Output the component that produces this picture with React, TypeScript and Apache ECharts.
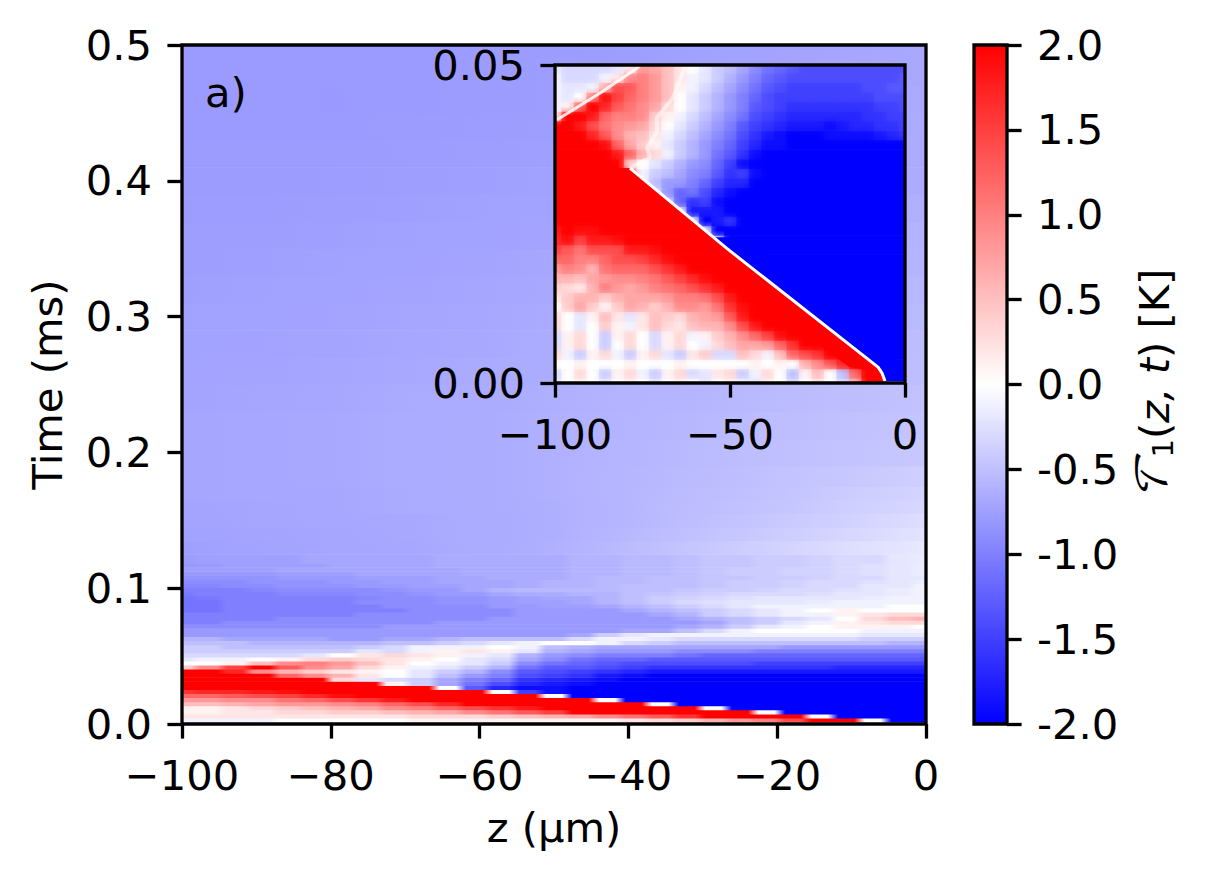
import React, { useEffect, useRef } from "react";
import * as echarts from "echarts";

const mainFineRows = [
[-1,-1,-1,0],
[-1,-1,-1,-1,0,0,0,0,0,1,1,1,1,1,1,1,1,2,3,4,6,8,10,14,20,20,0,-20],
[2,2,2,2,2,2,2,2,2,3,3,3,4,5,6,7,9,11,13,16,20,20,20,20,0,-20],
[1,1,2,2,3,3,4,4,5,6,7,9,11,13,15,20,20,20,20,20,20,20,0,-20],
[1,1,2,3,4,5,6,7,9,10,12,14,16,18,20,20,20,20,20,20,0,-20],
[5,5,6,7,8,8,9,10,12,14,17,20,20,20,20,20,20,20,0,-20],
[8,8,9,9,11,12,14,16,18,20,20,20,20,20,20,20,0,-20],
[12,12,13,14,15,17,19,20,20,20,20,20,20,20,0,-20],
[16,17,17,18,19,20,20,20,20,20,20,20,0,-15,-19,-20],
[20,20,20,20,20,20,20,20,20,20,0,-13,-17,-19,-19,-20],
[20,20,20,20,20,20,20,20,1,-4,-7,-11,-14,-17,-18,-19,-20],
[20,20,20,20,20,20,3,-2,-3,-4,-7,-10,-12,-16,-17,-18,-19,-20],
[20,20,20,20,12,9,6,2,0,-2,-5,-8,-10,-14,-15,-16,-18,-19,-20],
[20,20,17,9,6,4,2,1,0,-2,-4,-6,-9,-13,-14,-15,-16,-17,-18],
[4,9,15,20,13,9,7,3,1,-1,-2,-4,-6,-11,-13,-13,-14,-15,-16,-16,-16,-16,-16,-16,-16,-17],
[0,0,1,5,9,10,8,5,2,0,-1,-2,-4,-9,-11,-12,-13,-14,-14,-14,-14,-14,-15],
[-2,-1,-1,0,1,3,4,3,2,1,0,-2,-3,-7,-9,-11,-12,-12,-13],
[-3,-3,-3,-3,-3,-2,0,2,3,2,1,-1,-2,-6,-8,-9,-10,-10,-10,-11,-12],
[-4,-4,-4,-4,-4,-4,-4,-2,-3,-1,1,2,1,-2,-6,-7,-8,-8,-8,-9,-9,-9,-10],
[-4,-4,-5,-5,-5,-5,-5,-4,-3,-1,-1,-1,0,-1,-5,-6,-7,-7,-7,-7,-7,-7,-7,-8],
[-5,-5,-5,-6,-6,-6,-6,-6,-5,-5,-4,-3,-2,-1,0,0,-1,-3,-4,-5,-5,-5,-5,-5,-5,-5,-5,-6,-6],
[-6,-6,-7,-7,-7,-7,-8,-8,-7,-7,-6,-5,-5,-5,-5,-3,-1,-1,-2,-3,-3,-3,-3,-3,-3,-3,-4,-4,-4],
[-8,-8,-8,-8,-8,-8,-8,-8,-8,-8,-8,-8,-8,-8,-8,-7,-4,-2,-1,-1,-1,-1,-1,-1,-1,-1,-2,-2,-2],
[-8,-8,-8,-8,-8,-8,-8,-8,-8,-8,-8,-8,-8,-8,-8,-8,-8,-7,-7,-5,-3,-1,0,0,0,0,-1,-1,-1],
[-9,-9,-9,-9,-9,-9,-9,-9,-8,-8,-8,-8,-8,-8,-8,-8,-8,-8,-8,-7,-6,-4,-2,-1,0,1,1,1,0],
[-10,-10,-9,-9,-9,-9,-9,-9,-9,-9,-8,-8,-8,-8,-8,-8,-8,-8,-8,-8,-7,-5,-4,-2,-1,1,2,3,3],
[-10,-10,-10,-10,-9,-9,-9,-9,-9,-9,-9,-9,-8,-8,-8,-8,-8,-8,-8,-7,-6,-5,-4,-3,-2,0,3,5,6],
[-10,-10,-10,-10,-10,-10,-10,-9,-9,-9,-9,-9,-9,-8,-8,-8,-8,-8,-7,-6,-4,-3,-2,-1,-1,1,2,3,3],
[-11,-11,-10,-10,-10,-10,-10,-10,-10,-9,-9,-9,-9,-8,-8,-8,-8,-7,-6,-5,-4,-3,-2,-1,0,1,0,0,0],
[-11,-11,-10,-10,-10,-10,-10,-10,-9,-9,-9,-9,-8,-8,-7.5,-7.5,-7,-6,-5,-4,-3,-2,-1,-1,-1,-1,-1,0,0],
[-11,-11,-10,-10,-10,-10,-10,-9,-9,-9,-8.5,-8.5,-8,-7.5,-7.5,-7,-6,-5,-4,-3,-2.5,-2,-2,-2,-1.5,-1,-1,-1,-1],
[-11,-10.5,-10,-10,-10,-10,-10,-9.5,-9,-9,-8.5,-8.5,-8,-7.5,-7,-7,-6,-5,-4,-3.5,-3,-2.5,-2,-2,-2,-2,-1.5,-1,-1],
[-10.5,-10,-10,-10,-9.5,-9.5,-9.5,-9,-9,-8.5,-8,-8,-7,-6.5,-6.5,-6,-6,-5,-4.5,-4,-3.5,-3,-3,-3,-2.5,-2,-2,-1.5,-1],
[-10,-10,-10,-9.5,-9,-9,-9,-9,-8.5,-8,-8,-7,-6,-5.5,-5.5,-5.5,-5.5,-5,-5,-4.5,-4,-4,-3.5,-3,-3,-2.5,-2,-1.5,-1],
[-9.5,-9.5,-9,-9,-8.5,-8.5,-8.5,-8,-8,-7.5,-7.5,-7,-7,-6.5,-6,-6,-5.5,-5,-5,-5,-4.5,-4,-4,-3.5,-3,-3,-2,-2,-1],
[-9,-9,-9,-8.5,-8.5,-8.5,-8,-8,-7.5,-7.5,-7,-7,-7,-6.5,-6,-6,-5.5,-5.5,-5,-5,-4.5,-4,-4,-3.5,-3,-3,-2.5,-2,-1.5],
[-8.5,-8.5,-8.5,-8.5,-8,-8,-8,-7.5,-7.5,-7.5,-7,-7,-6.5,-6.5,-6.5,-6,-5.5,-5.5,-5,-5,-4.5,-4.5,-4,-4,-3.5,-3,-3,-2,-2],
[-8,-8,-8,-8,-7.5,-7.5,-7.5,-7,-7,-7,-7,-6.5,-6.5,-6.5,-6.5,-6,-6,-5.5,-5.5,-5,-4.5,-4,-4,-3.5,-3.5,-3,-2.5,-2,-1.5],
[-7.5,-7.5,-7.5,-7.5,-7,-7,-7,-7,-7,-7,-7,-6.5,-6.5,-6.5,-6.5,-6,-6,-5.5,-5.5,-5,-4.5,-4,-4,-3.5,-3.5,-3,-2.5,-2,-1.5],
[-8,-8,-7.5,-7.5,-7.5,-7.5,-7,-7,-7,-7,-6.5,-6.5,-6.5,-6.5,-6.5,-6,-6,-5.5,-5.5,-5,-4.5,-4.5,-4,-4,-3.5,-3,-2.5,-2,-1.5],
[-7.8,-7.5,-7.5,-7.5,-7.5,-7,-7,-7,-7,-7,-6.5,-6.5,-6.5,-6.5,-6.5,-6,-6,-5.5,-5.5,-5,-4.5,-4.5,-4,-4,-3.5,-3,-3,-2,-1.6],
];

const mainUpperTimes = [0.13,0.14,0.15,0.16,0.17,0.18,0.2,0.22,0.24,0.26,0.28,0.3,0.32,0.34,0.36,0.38,0.4,0.42,0.44,0.46,0.48,0.5];
const mainUpperRows = [
[-7.5,-7.2,-7.0,-6.9,-6.6,-6.2,-5.3,-4.4,-3.5,-2.6,-1.8],
[-7.3,-7.1,-7.0,-6.8,-6.6,-6.3,-5.6,-4.8,-4.0,-3.1,-2.2],
[-7.2,-7.0,-6.9,-6.8,-6.6,-6.3,-5.7,-5.0,-4.3,-3.5,-2.6],
[-7.1,-7.0,-6.9,-6.7,-6.5,-6.3,-5.7,-5.1,-4.6,-3.8,-3.1],
[-7.0,-6.9,-6.9,-6.7,-6.5,-6.2,-5.7,-5.2,-4.7,-4.0,-3.4],
[-7.0,-6.9,-6.8,-6.6,-6.5,-6.2,-5.7,-5.3,-4.8,-4.3,-3.8],
[-7.0,-6.9,-6.8,-6.6,-6.5,-6.2,-5.8,-5.4,-5.0,-4.7,-4.3],
[-7.0,-6.9,-6.8,-6.6,-6.5,-6.2,-5.9,-5.6,-5.2,-4.9,-4.6],
[-7.1,-7.0,-6.9,-6.7,-6.6,-6.3,-6.0,-5.7,-5.4,-5.1,-4.8],
[-7.2,-7.1,-7.0,-6.8,-6.7,-6.4,-6.1,-5.8,-5.5,-5.3,-5.0],
[-7.3,-7.2,-7.1,-6.9,-6.8,-6.5,-6.3,-6.0,-5.7,-5.4,-5.2],
[-7.4,-7.3,-7.2,-7.0,-6.9,-6.7,-6.4,-6.1,-5.9,-5.6,-5.4],
[-7.5,-7.4,-7.3,-7.1,-7.0,-6.8,-6.6,-6.3,-6.1,-5.8,-5.6],
[-7.6,-7.5,-7.4,-7.3,-7.1,-6.9,-6.7,-6.5,-6.3,-6.0,-5.8],
[-7.6,-7.6,-7.5,-7.4,-7.3,-7.1,-6.9,-6.7,-6.5,-6.2,-6.0],
[-7.7,-7.7,-7.6,-7.5,-7.4,-7.2,-7.0,-6.8,-6.6,-6.4,-6.2],
[-7.8,-7.8,-7.7,-7.6,-7.5,-7.4,-7.2,-7.0,-6.8,-6.6,-6.4],
[-7.8,-7.8,-7.8,-7.7,-7.6,-7.5,-7.3,-7.1,-6.9,-6.7,-6.5],
[-7.9,-7.9,-7.9,-7.8,-7.7,-7.6,-7.4,-7.2,-7.0,-6.8,-6.6],
[-7.9,-7.9,-8.0,-7.9,-7.8,-7.7,-7.5,-7.3,-7.1,-6.9,-6.7],
[-7.9,-7.9,-7.9,-7.9,-7.8,-7.7,-7.6,-7.4,-7.2,-7.0,-6.8],
[-7.9,-7.9,-7.9,-7.9,-7.8,-7.8,-7.6,-7.4,-7.2,-7.0,-6.8],
];

const insetRows = [
[-2,0,1,0,-2,0,1,0,-2,0,1,0,-2,0,1,-1,-2,1,0,-3,0,2,0,-3,6,20,20,-3,-8],
[-3,0,3,0,-4,1,3,-1,-4,1,3,-3,-2,2,3,-4,-1,3,0,-5,1,5,0,-5,12,20,20,-15,-20],
[0,0,1,0,0,0,1,0,0,0,1,0,0,0,0,0,1,0,1,0,6,9,13,17,20,20,-4,-20],
[3,-1,-4,1,3,-1,-4,1,3,-2,-4,2,4,-3,-3,5,3,-1,5,12,14,16,20,20,20,-2,-20],
[-3,1,3,0,-4,0,3,0,-3,1,3,0,-1,3,5,7,7,8,12,16,20,20,20,20,-2,-20],
[-3,1,3,0,-4,1,3,0,-3,1,3,-1,1,4,6,9,12,15,19,20,20,20,20,-2,-20],
[3,0,-2,0,4,1,-1,2,5,3,2,5,6,6,9,14,18,20,20,20,20,20,-2,-20],
[3,0,-2,1,5,2,-2,2,5,4,3,6,7,8,13,18,20,20,20,20,20,-2,-20],
[0,4,7,4,1,4,7,6,4,6,9,9,8,11,16,19,20,20,20,20,-2,-20],
[2,4,6,6,4,6,7,7,7,8,10,10,11,14,18,20,20,20,20,-2,-20],
[4,3,2,6,10,8,7,8,10,11,12,14,16,18,20,20,20,20,-2,-20],
[6,6,5,7,8,9,9,10,11,13,15,17,19,20,20,20,20,-2,-20],
[8,10,9,6,11,12,12,12,14,16,18,20,20,20,20,20,-2,-20],
[12,12,10,10,12,14,14,15,17,19,20,20,20,20,20,-2,-20],
[15,13,11,14,14,14,18,18,19,20,20,20,20,20,-2,-20],
[17,19,15,18,18,19,20,20,20,20,20,20,20,-2,-20],
[18,20,19,19,20,20,20,20,20,20,20,20,-2,-20],
[20,20,20,20,20,20,20,20,20,20,20,-2,-20,-18,-16,-20],
[20,20,20,20,20,20,20,20,20,20,-2,-18,-18,-18,-20],
[20,20,20,20,20,20,20,20,20,-4,-12,-16,-15,-19,-20],
[20,20,20,20,20,20,20,20,-3,-8,-12,-11,-14,-17,-19,-20],
[20,20,20,20,20,20,20,-1,-5,-8,-8,-10,-12,-15,-17,-17,-20],
[20,20,20,20,20,20,12,-1,-4,-5,-7,-9,-10,-13,-16,-15,-19,-20],
[20,20,20,20,20,20,4,0,-2,-4,-6,-8,-9,-12,-15,-19,-20],
[20,20,20,20,20,18,12,6,3,-1,-4,-6,-8,-11,-13,-16,-19,-20],
[20,20,20,20,19,12,7,4,1,-2,-4,-6,-8,-10,-12,-15,-17,-19,-19,-20],
[20,20,20,17,13,9,6,5,2,-1,-3,-5,-7,-9,-11,-14,-16,-18,-19,-20,-20,-20,-19,-19,-19,-19,-18,-17,-16],
[20,20,18,14,11,9,8,7,3,0,-2,-4,-6,-8,-10,-13,-15,-16,-17,-18,-18,-18,-19,-18,-17,-17,-16,-16,-15],
[2,20,20,18,12,10,10,9,4,1,-1,-3,-5,-7,-9,-11,-14,-15,-16,-17,-17,-17,-17,-17,-17,-16,-16,-15,-15],
[-1,1,12,20,17,13,11,9,7,3,0,-2,-4,-6,-8,-10,-13,-14,-15,-16,-16,-16,-16,-16,-16,-16,-15,-15,-14],
[-1,-2,0,10,19,15,12,10,8,5,0,-2,-4,-6,-8,-10,-12,-14,-15,-15,-15,-15,-15,-15,-15,-15,-14,-14,-14],
[-1,-2,-2,-1,6,14,13,10,8,5,1,-1,-3,-5,-7,-9,-11,-13,-14,-15,-15,-15,-15,-15,-15,-14,-14,-13,-13],
[-1,-3,-3,-3,-1,2,9,10,8,5,2,-1,-2,-4,-6,-8,-10,-12,-13,-14,-14,-14,-14,-14,-14,-14,-14,-14,-13],
[-2,-3,-3,-3,-3,-2,2,8,7,5,2,0,-2,-4,-5,-7,-9,-11,-12,-13,-14,-14,-14,-14,-14,-14,-14,-14,-14],
[-2,-2,-3,-3,-3,-3,-1,6,7,5,1,0,-2,-3,-5,-7,-8,-10,-11,-12,-13,-13,-13,-13,-13,-13,-13,-13,-13],
];

// Fronts as [z, t]
const insetFrontLine = [[-5.7,0.0003],[-6.6,0.0016],[-7.7,0.0025],[-51,0.0212],[-78.6,0.0338]];
const insetRidgeLine = [[-78.6,0.0338],[-72.9,0.0354],[-73.7,0.037],[-70.9,0.0395],[-70.9,0.0417],[-66.3,0.0448],[-63.4,0.0489],[-62.9,0.05]];
const insetWedgeLine = [[-99.4,0.0414],[-87.1,0.0456],[-76.6,0.0495],[-75.7,0.05]];
const insetRedArea = [[-6.6,0.0016],[-7.7,0.0025],[-51,0.0212],[-78.6,0.0338],[-88,0.0338],[-60,0.0212],[-16,0.0025]];
const insetBlueArea = [[-5.7,0.0003],[-7.7,0.0025],[-55,0.0229],[-46,0.0229],[0,0.0025],[0,0.0003]];

const mainZTicks = { min: -100, max: 0, interval: 20 };
const mainTimeTicks = { min: 0, max: 0.5, interval: 0.1 };
const insetZTicks = { min: -100, max: 0, interval: 50 };
const insetTimeTicks = { min: 0, max: 0.05, interval: 0.05 };
const colorbarTicks = { min: -2, max: 2, interval: 0.5 };
const colorStops = ["#0000ff", "#ffffff", "#ff0000"];

const FONT = "DejaVu Sans";
const FS = 41.67;
const LW = 3.3;
const TICK = 14.6;
const LABEL_MARGIN = 30;

const centers = (lo: number, hi: number, n: number) =>
  Array.from({ length: n }, (_, i) => lo + ((hi - lo) * i) / (n - 1));

const edgesOf = (c: number[]) =>
  c.map((v, i) => [
    i === 0 ? v - (c[1] - c[0]) / 2 : (c[i - 1] + v) / 2,
    i === c.length - 1 ? v + (v - c[i - 1]) / 2 : (v + c[i + 1]) / 2,
  ]);

const bwr = (tenths: number) => {
  const k = Math.round(255 * (1 - Math.min(Math.abs(tenths), 20) / 20));
  return tenths < 0 ? `rgb(${k},${k},255)` : `rgb(255,${k},${k})`;
};

const at = (row: number[], i: number) => (i < row.length ? row[i] : row[row.length - 1]);

type Strip = { box: number[]; vertical: boolean; stops: { offset: number; color: string }[] };

// Stops run from 0 at the strip's left (or top) to 1; `flat` holds each cell's own colour over that share of its width.
function stopsOf(pos: number[], vals: number[], lo: number, hi: number, flat: number, reverse: boolean) {
  const step = Math.abs(pos[1] - pos[0]);
  const stops: { offset: number; color: string }[] = [];
  pos.forEach((p, i) => {
    const c = bwr(vals[i]);
    if (flat > 0) {
      stops.push({ offset: Math.max(0, Math.min(1, (p - (flat * step) / 2 - lo) / (hi - lo))), color: c });
      stops.push({ offset: Math.max(0, Math.min(1, (p + (flat * step) / 2 - lo) / (hi - lo))), color: c });
    } else {
      stops.push({ offset: (p - lo) / (hi - lo), color: c });
    }
  });
  if (reverse) return stops.map((s) => ({ offset: 1 - s.offset, color: s.color })).reverse();
  return stops;
}

function rowStrips(rows: number[][], zs: number[], tEdges: number[][], flat: number): Strip[] {
  return rows.map((row, r) => ({
    box: [zs[0], zs[zs.length - 1], tEdges[r][0], tEdges[r][1]],
    vertical: false,
    stops: stopsOf(zs, zs.map((_, i) => at(row, i)), zs[0], zs[zs.length - 1], flat, false),
  }));
}

function columnStrips(rows: number[][], zs: number[], ts: number[]): Strip[] {
  const zEdges = edgesOf(zs);
  const lo = ts[0];
  const hi = ts[ts.length - 1];
  return zs.map((_, i) => ({
    box: [zEdges[i][0], zEdges[i][1], lo, hi],
    vertical: true,
    stops: stopsOf(ts, rows.map((row) => at(row, i)), lo, hi, 0, true),
  }));
}

const stripSeries = (strips: Strip[], axis: number, z: number, opacity: number) => ({
  type: "custom",
  xAxisIndex: axis,
  yAxisIndex: axis,
  z,
  clip: true,
  silent: true,
  encode: { x: [0, 1], y: [2, 3] },
  data: strips.map((s) => s.box),
  renderItem: (params: any, api: any) => {
    const s = strips[params.dataIndex];
    const a = api.coord([api.value(0), api.value(2)]);
    const b = api.coord([api.value(1), api.value(3)]);
    return {
      type: "rect",
      silent: true,
      shape: {
        x: Math.min(a[0], b[0]),
        y: Math.min(a[1], b[1]),
        width: Math.abs(a[0] - b[0]) + (s.vertical ? 0.6 : 0),
        height: Math.abs(a[1] - b[1]) + (s.vertical ? 0 : 0.6),
      },
      style: {
        opacity,
        fill: new echarts.graphic.LinearGradient(0, 0, s.vertical ? 0 : 1, s.vertical ? 1 : 0, s.stops),
      },
    };
  },
});

const areaSeries = (points: number[][], color: string, z: number) => ({
  type: "custom",
  xAxisIndex: 1,
  yAxisIndex: 1,
  z,
  clip: true,
  silent: true,
  encode: { x: 0, y: 1 },
  data: points,
  renderItem: (params: any, api: any) => {
    if (params.dataIndex !== 0) return { type: "group", children: [] };
    return {
      type: "polygon",
      silent: true,
      shape: { points: points.map((p) => api.coord(p)) },
      style: { fill: color },
    };
  },
});

const frontSeries = (points: number[][], z: number, width: number, opacity: number) => ({
  type: "line",
  xAxisIndex: 1,
  yAxisIndex: 1,
  z,
  clip: true,
  silent: true,
  showSymbol: false,
  smooth: false,
  lineStyle: { color: "#ffffff", width, opacity },
  itemStyle: { color: "#ffffff" },
  data: points,
});

const minus = (s: string) => s.replace("-", "\u2212");

const axisBase = (z: number) => ({
  type: "value" as const,
  z,
  splitLine: { show: false },
  axisLine: { show: false, onZero: false },
  axisTick: { show: true, length: TICK, lineStyle: { color: "#000", width: LW } },
  axisLabel: { color: "#000", fontFamily: FONT, fontSize: FS, margin: LABEL_MARGIN },
  nameTextStyle: { color: "#000", fontFamily: FONT, fontSize: FS },
});

export default function App() {
  const ref = useRef<HTMLDivElement>(null);
  useEffect(() => {
    const chart = echarts.init(ref.current!, undefined, { renderer: "svg" });

    const mainFineTimes = mainFineRows.map((_, k) => k * 0.003);
    const mainTimes = [...mainFineTimes, ...mainUpperTimes];
    const mainTEdges = edgesOf(mainTimes);
    const fine = mainFineRows.length;
    const zFine = centers(-100, 0, 29);
    const zUpper = centers(-100, 0, 11);
    const mainStrips = [
      ...rowStrips(mainFineRows, zFine, mainTEdges.slice(0, fine), 0.6),
      ...rowStrips(mainUpperRows, zUpper, mainTEdges.slice(fine), 0),
    ];
    const insetTimes = insetRows.map((_, r) => r * 0.0015);
    const insetRowStrips = rowStrips(insetRows, zFine, edgesOf(insetTimes), 0);
    const insetColumnStrips = columnStrips(insetRows, zFine, insetTimes);

    chart.setOption({
      animation: false,
      backgroundColor: "#fff",
      grid: [
        { left: 182, top: 45, width: 744, height: 679, show: true, borderColor: "#000", borderWidth: LW, backgroundColor: "transparent", z: 2 },
        { left: 555, top: 65, width: 350, height: 318, show: true, borderColor: "#000", borderWidth: LW, backgroundColor: "transparent", z: 6 },
        { left: 974, top: 45, width: 33, height: 679, show: true, borderColor: "#000", borderWidth: LW, backgroundColor: "transparent", z: 8 },
      ],
      xAxis: [
        {
          ...axisBase(5), gridIndex: 0, ...mainZTicks, name: "z (\u00b5m)", nameLocation: "middle", nameGap: 82,
          axisLabel: { ...axisBase(5).axisLabel, formatter: (v: number) => minus(String(v)) },
        },
        {
          ...axisBase(7), gridIndex: 1, ...insetZTicks,
          axisLabel: { ...axisBase(7).axisLabel, formatter: (v: number) => minus(String(v)) },
        },
        { type: "value", gridIndex: 2, min: 0, max: 1, show: false },
      ],
      yAxis: [
        {
          ...axisBase(5), gridIndex: 0, ...mainTimeTicks, name: "Time (ms)", nameLocation: "middle", nameGap: 114, nameRotate: 90,
          axisLabel: { ...axisBase(5).axisLabel, formatter: (v: number) => v.toFixed(1) },
        },
        {
          ...axisBase(7), gridIndex: 1, ...insetTimeTicks,
          axisLabel: { ...axisBase(7).axisLabel, formatter: (v: number) => v.toFixed(2) },
        },
        {
          ...axisBase(9), gridIndex: 2, position: "right", ...colorbarTicks,
          name: "{c|\u{1D4AF}}{s|1}{n|(}{i|z, t}{n|) [K]}", nameLocation: "middle", nameGap: 125, nameRotate: 90,
          nameTextStyle: {
            color: "#000", fontFamily: FONT, fontSize: FS,
            rich: {
              c: { fontFamily: "DejaVu Math TeX Gyre, DejaVu Sans", fontSize: FS, fontStyle: "italic", color: "#000" },
              s: { fontFamily: FONT, fontSize: 29, color: "#000", verticalAlign: "bottom", padding: [16, 0, 0, 0] },
              n: { fontFamily: FONT, fontSize: FS, color: "#000" },
              i: { fontFamily: FONT, fontSize: FS, fontStyle: "italic", color: "#000" },
            },
          },
          axisLabel: { ...axisBase(9).axisLabel, formatter: (v: number) => v.toFixed(1) },
        },
      ],
      visualMap: {
        type: "continuous",
        min: -2,
        max: 2,
        seriesIndex: [],
        inRange: { color: colorStops },
        show: true,
        calculable: false,
        hoverLink: false,
        showLabel: false,
        left: 974,
        top: 45,
        itemWidth: 33,
        itemHeight: 679,
        padding: 0,
        z: 4,
      },
      series: [
        stripSeries(mainStrips, 0, 1, 1),
        stripSeries(insetRowStrips, 1, 3, 1),
        stripSeries(insetColumnStrips, 1, 3.1, 0.5),
        areaSeries(insetRedArea, "#ff0000", 3.2),
        areaSeries(insetBlueArea, "#0000ff", 3.2),
        frontSeries(insetFrontLine, 3.3, 3, 1),
        frontSeries(insetRidgeLine, 3.3, 4, 0.5),
        frontSeries(insetWedgeLine, 3.3, 3, 0.85),
      ],
      graphic: [
        {
          type: "text", left: 205, top: 71, z: 10, silent: true,
          style: { text: "a)", fontFamily: FONT, fontSize: FS, fill: "#000" },
        },
      ],
    });
    return () => chart.dispose();
  }, []);
  return (
    <div
      ref={ref}
      style={{ position: "fixed", left: 0, top: 0, width: 1205, height: 880, background: "#fff" }}
    />
  );
}
